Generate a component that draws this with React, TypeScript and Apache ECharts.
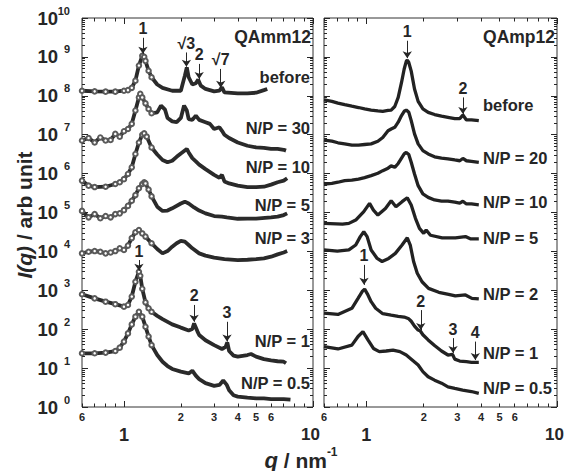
import React, { useEffect, useRef } from 'react';
import * as echarts from 'echarts';

type Pt = [number, number]; // [q (nm^-1), I (arb. unit)]

// ---------- Left panel: QAmm12 ----------
const qammBefore: Pt[] = [
  [0.6, 1.35e8], [0.7, 1.3e8], [0.8, 1.28e8], [0.9, 1.28e8], [1.0, 1.35e8], [1.05, 1.4e8], [1.1, 1.6e8],
  [1.15, 2.45e8], [1.2, 6.0e8], [1.25, 1.07e9], [1.28, 1.0e9], [1.3, 7.9e8], [1.35, 4.4e8], [1.4, 3.0e8],
  [1.5, 1.95e8], [1.6, 1.6e8], [1.8, 1.35e8], [2.0, 1.35e8], [2.1, 3.3e8], [2.15, 5.4e8], [2.2, 3.0e8],
  [2.3, 1.95e8], [2.4, 2.1e8], [2.47, 2.6e8], [2.55, 1.82e8], [2.7, 1.5e8], [3.0, 1.3e8], [3.2, 1.35e8],
  [3.3, 1.66e8], [3.4, 1.23e8], [4.0, 1.15e8], [4.5, 1.15e8], [5.0, 1.2e8], [5.5, 1.4e8], [5.73, 1.5e8],
];
const qammNP30: Pt[] = [
  [0.6, 7.1e6], [0.65, 8.2e6], [0.7, 6.3e6], [0.75, 8.5e6], [0.8, 7.1e6], [0.85, 7.3e6], [0.9, 1.05e7],
  [0.95, 8.9e6], [1.0, 1.23e7], [1.05, 1.4e7], [1.1, 1.9e7], [1.15, 4.2e7], [1.2, 9.1e7], [1.22, 1.12e8],
  [1.25, 9.1e7], [1.3, 6.4e7], [1.35, 4.6e7], [1.4, 3.55e7], [1.5, 3.76e7], [1.57, 5.6e7], [1.65, 4.4e7],
  [1.7, 2.7e7], [1.8, 2.2e7], [1.9, 2.1e7], [2.0, 2.7e7], [2.08, 5.6e7], [2.15, 4.2e7], [2.2, 2.5e7],
  [2.3, 2.4e7], [2.4, 3.1e7], [2.5, 2.4e7], [2.7, 2.1e7], [2.85, 1.9e7], [3.0, 1.4e7], [3.2, 1.55e7],
  [3.3, 1.26e7], [3.4, 1.0e7], [3.6, 8.2e6], [4.0, 6.3e6], [4.5, 5.2e6], [5.0, 4.7e6], [5.5, 4.6e6],
  [6.0, 4.3e6], [6.5, 4.3e6], [7.0, 4.1e6], [7.2, 3.9e6],
];
const qammNP10: Pt[] = [
  [0.6, 6.6e5], [0.65, 4.9e5], [0.7, 4.5e5], [0.8, 4.6e5], [0.9, 5.4e5], [0.95, 6.0e5], [1.0, 7.2e5],
  [1.05, 9.8e5], [1.1, 1.45e6], [1.15, 3.2e6], [1.2, 6.3e6], [1.25, 1.0e7], [1.28, 1.08e7], [1.32, 8.9e6],
  [1.4, 4.7e6], [1.5, 3.1e6], [1.6, 2.24e6], [1.7, 1.95e6], [1.8, 2.14e6], [1.9, 2.7e6], [2.0, 3.3e6],
  [2.15, 4.3e6], [2.2, 3.5e6], [2.3, 2.5e6], [2.4, 2.07e6], [2.5, 1.7e6], [2.7, 1.3e6], [3.0, 9.3e5],
  [3.2, 7.8e5], [3.3, 9.3e5], [3.4, 6.3e5], [3.6, 5.6e5], [4.0, 4.9e5], [4.5, 4.5e5], [5.0, 4.5e5],
  [5.5, 4.6e5], [6.0, 5.2e5], [6.5, 6.0e5], [7.0, 6.6e5], [7.3, 7.6e5],
];
const qammNP5: Pt[] = [
  [0.6, 1.1e5], [0.65, 7.5e4], [0.7, 9.1e4], [0.75, 7.1e4], [0.8, 8.1e4], [0.85, 7.5e4], [0.9, 9.1e4],
  [0.95, 9.5e4], [1.0, 1.15e5], [1.05, 1.48e5], [1.1, 2.0e5], [1.15, 2.8e5], [1.2, 4.2e5], [1.25, 5.4e5],
  [1.28, 6.0e5], [1.3, 5.6e5], [1.35, 3.9e5], [1.4, 2.6e5], [1.5, 1.41e5], [1.6, 1.1e5], [1.7, 1.12e5],
  [1.8, 1.28e5], [2.0, 1.7e5], [2.1, 1.9e5], [2.2, 1.7e5], [2.35, 1.35e5], [2.5, 1.12e5], [2.7, 9.5e4],
  [3.0, 8.1e4], [3.3, 7.8e4], [3.5, 7.5e4], [4.0, 6.9e4], [4.5, 7.0e4], [5.0, 7.0e4], [6.0, 7.5e4],
  [6.5, 7.8e4], [7.0, 8.6e4], [7.3, 9.5e4],
];
const qammNP3: Pt[] = [
  [0.6, 8.9e3], [0.65, 9.8e3], [0.7, 1.02e4], [0.75, 9.8e3], [0.8, 8.9e3], [0.85, 9.4e3], [0.9, 1.02e4],
  [0.95, 1.2e4], [1.0, 1.09e4], [1.05, 1.41e4], [1.1, 2.2e4], [1.15, 3.1e4], [1.2, 3.55e4], [1.25, 2.9e4],
  [1.3, 2.4e4], [1.4, 1.62e4], [1.5, 1.15e4], [1.6, 8.9e3], [1.7, 1.02e4], [1.8, 1.32e4], [1.9, 1.62e4],
  [2.0, 1.86e4], [2.1, 1.78e4], [2.2, 1.46e4], [2.3, 1.2e4], [2.5, 8.9e3], [2.7, 7.8e3], [3.0, 6.9e3],
  [3.4, 6.3e3], [4.0, 6.0e3], [4.5, 6.1e3], [5.0, 6.3e3], [5.5, 6.6e3], [6.0, 7.3e3], [6.5, 8.4e3],
  [7.0, 9.4e3], [7.3, 1.02e4],
];
const qammNP1: Pt[] = [
  [0.6, 790], [0.7, 620], [0.8, 510], [0.9, 440], [1.0, 380], [1.05, 420], [1.1, 690], [1.15, 1660],
  [1.2, 3000], [1.22, 2370], [1.25, 1100], [1.3, 490], [1.35, 345], [1.4, 280], [1.5, 220], [1.6, 182],
  [1.8, 133], [2.0, 110], [2.2, 93], [2.3, 101], [2.35, 141], [2.45, 87], [2.5, 71], [2.7, 52], [3.0, 39],
  [3.3, 31], [3.45, 35], [3.52, 46], [3.6, 27.5], [3.8, 21], [4.0, 19.7], [4.5, 21.7], [4.7, 23], [5.0, 19.7],
  [5.5, 17], [6.0, 15.8], [6.5, 15], [7.0, 14.6], [7.2, 13.3],
];
const qammNP05: Pt[] = [
  [0.6, 24], [0.7, 24], [0.8, 25], [0.9, 27.5], [0.95, 33.5], [1.0, 48], [1.05, 78], [1.1, 133], [1.15, 210],
  [1.2, 280], [1.25, 210], [1.3, 116], [1.35, 65], [1.4, 39], [1.5, 21.7], [1.6, 14.6], [1.7, 11.3], [1.8, 9.5],
  [2.0, 8.1], [2.2, 7.3], [2.3, 8.6], [2.4, 6.4], [2.5, 5.2], [2.7, 4.1], [3.0, 3.5], [3.2, 3.7], [3.35, 4.8],
  [3.5, 3.7], [3.6, 2.7], [3.8, 2.0], [4.0, 1.85], [4.5, 1.74], [5.0, 1.67], [5.5, 1.67], [6.0, 1.6],
  [6.5, 1.6], [7.0, 1.6], [7.6, 1.55],
];

// ---------- Right panel: QAmp12 ----------
const qampBefore: Pt[] = [
  [0.6, 7.8e7], [0.66, 7.2e7], [0.71, 6.5e7], [0.77, 5.9e7], [0.84, 5.4e7], [0.91, 5.0e7], [0.98, 4.6e7],
  [1.06, 4.3e7], [1.15, 4.1e7], [1.22, 4.0e7], [1.3, 4.2e7], [1.35, 4.3e7], [1.41, 5.3e7], [1.47, 9.1e7],
  [1.53, 2.2e8], [1.58, 4.9e8], [1.62, 7.7e8], [1.64, 8.3e8], [1.67, 7.2e8], [1.72, 4.3e8], [1.79, 1.5e8],
  [1.87, 7.2e7], [1.98, 4.6e7], [2.11, 3.76e7], [2.28, 3.3e7], [2.48, 3.0e7], [2.68, 2.8e7], [2.91, 2.6e7],
  [3.09, 2.6e7], [3.21, 3.2e7], [3.35, 2.4e7], [3.56, 2.4e7], [3.89, 2.3e7],
];
const qampNP20: Pt[] = [
  [0.6, 7.3e6], [0.66, 6.8e6], [0.71, 6.2e6], [0.77, 5.8e6], [0.84, 5.4e6], [0.91, 5.4e6], [0.98, 5.6e6],
  [1.06, 5.8e6], [1.15, 6.8e6], [1.22, 8.5e6], [1.3, 1.26e7], [1.35, 1.4e7], [1.41, 1.55e7], [1.47, 2.1e7],
  [1.53, 3.1e7], [1.58, 4.0e7], [1.62, 4.3e7], [1.67, 3.76e7], [1.72, 2.3e7], [1.79, 1.05e7], [1.87, 5.8e6],
  [1.98, 3.9e6], [2.11, 3.2e6], [2.28, 2.7e6], [2.48, 2.5e6], [2.68, 2.4e6], [2.91, 2.24e6], [3.09, 2.14e6],
  [3.21, 2.45e6], [3.35, 2.14e6], [3.56, 2.07e6], [3.89, 1.95e6],
];
const qampNP10: Pt[] = [
  [0.6, 5.4e5], [0.66, 5.6e5], [0.71, 6.0e5], [0.77, 6.6e5], [0.84, 6.8e5], [0.91, 7.2e5], [0.98, 7.9e5],
  [1.06, 8.9e5], [1.15, 1.02e6], [1.22, 1.19e6], [1.3, 1.38e6], [1.35, 1.58e6], [1.41, 1.45e6], [1.47, 1.82e6],
  [1.53, 2.5e6], [1.58, 3.2e6], [1.62, 3.5e6], [1.67, 3.1e6], [1.72, 1.95e6], [1.79, 9.8e5], [1.87, 4.9e5],
  [1.98, 3.0e5], [2.11, 2.45e5], [2.28, 2.1e5], [2.48, 1.95e5], [2.68, 1.95e5], [2.91, 1.84e5], [3.09, 1.74e5],
  [3.21, 1.95e5], [3.35, 1.66e5], [3.56, 1.66e5], [3.89, 1.58e5],
];
const qampNP5: Pt[] = [
  [0.6, 5.25e4], [0.75, 5.0e4], [0.81, 5.25e4], [0.88, 6.4e4], [0.97, 1.05e5], [1.04, 1.72e5], [1.09, 1.15e5],
  [1.15, 8.6e4], [1.26, 1.27e5], [1.35, 2.0e5], [1.43, 1.41e5], [1.54, 1.9e5], [1.64, 2.4e5], [1.72, 1.55e5],
  [1.81, 7.1e4], [1.9, 3.9e4], [2.0, 2.9e4], [2.06, 3.55e4], [2.17, 2.6e4], [2.5, 2.24e4], [2.93, 2.24e4],
  [3.31, 2.4e4], [3.51, 2.1e4], [3.89, 2.1e4],
];
const qampNP2: Pt[] = [
  [0.6, 1.09e4], [0.705, 1.02e4], [0.81, 1.09e4], [0.88, 1.46e4], [0.93, 2.4e4], [0.97, 3.2e4], [1.01, 2.4e4],
  [1.06, 1.09e4], [1.14, 6.6e3], [1.21, 5.5e3], [1.31, 6.6e3], [1.42, 8.9e3], [1.54, 1.46e4], [1.64, 2.24e4],
  [1.7, 1.46e4], [1.77, 5.5e3], [1.85, 2.75e3], [1.96, 1.66e3], [2.12, 1.12e3], [2.4, 890], [2.7, 790],
  [2.93, 720], [3.31, 760], [3.58, 620], [3.89, 600],
];
const qampNP1: Pt[] = [
  [0.6, 260], [0.71, 240], [0.84, 345], [0.905, 620], [0.955, 950], [0.98, 1070], [1.02, 760], [1.06, 510],
  [1.12, 345], [1.22, 250], [1.35, 230], [1.47, 215], [1.58, 205], [1.67, 185], [1.72, 160], [1.79, 120],
  [1.87, 95], [1.92, 90], [1.98, 72], [2.11, 53], [2.28, 38], [2.48, 27.5], [2.68, 21.7], [2.83, 22.6],
  [2.91, 17], [3.09, 15.2], [3.35, 14.6], [3.56, 14.1], [3.89, 14.1],
];
const qampNP05: Pt[] = [
  [0.6, 35.5], [0.71, 31], [0.84, 39], [0.905, 65], [0.96, 87], [1.02, 53], [1.09, 32], [1.17, 26.5],
  [1.27, 27.5], [1.38, 29], [1.5, 26.5], [1.62, 21.7], [1.74, 16.2], [1.87, 12], [1.98, 8.1], [2.11, 6.0],
  [2.28, 4.9], [2.48, 4.1], [2.68, 3.3], [2.91, 3.0], [3.2, 2.7], [3.56, 2.5], [3.89, 2.24],
];

const qammNames = ['before', 'N/P = 30', 'N/P = 10', 'N/P = 5', 'N/P = 3', 'N/P = 1', 'N/P = 0.5'];
const qampNames = ['before', 'N/P = 20', 'N/P = 10', 'N/P = 5', 'N/P = 2', 'N/P = 1', 'N/P = 0.5'];

// Peak annotations: label, q position, arrow start / arrow tip intensities
type Ann = { text: string; q: number; iFrom: number; iTo: number };
const qammPeaksBefore: Ann[] = [
  { text: '1', q: 1.26, iFrom: 3.1e9, iTo: 1.2e9 },
  { text: '√3', q: 2.14, iFrom: 1.3e9, iTo: 5.6e8 },
  { text: '2', q: 2.5, iFrom: 6.6e8, iTo: 2.7e8 },
  { text: '√7', q: 3.25, iFrom: 4.9e8, iTo: 1.6e8 },
];
const qammPeaksNP1: Ann[] = [
  { text: '1', q: 1.2, iFrom: 6.0e3, iTo: 3.2e3 },
  { text: '2', q: 2.35, iFrom: 420, iTo: 155 },
  { text: '3', q: 3.51, iFrom: 155, iTo: 48 },
];
const qampPeaksBefore: Ann[] = [
  { text: '1', q: 1.64, iFrom: 2.6e9, iTo: 9.3e8 },
  { text: '2', q: 3.21, iFrom: 9.1e7, iTo: 3.4e7 },
];
const qampPeaksNP1: Ann[] = [
  { text: '1', q: 0.973, iFrom: 4.5e3, iTo: 1.38e3 },
  { text: '2', q: 1.93, iFrom: 310, iTo: 95 },
  { text: '3', q: 2.85, iFrom: 59, iTo: 24.5 },
  { text: '4', q: 3.73, iFrom: 48, iTo: 16.2 },
];

// Axis ticks
const xLabelTicks = [0.6, 1, 2, 3, 4, 5, 6, 10];
const xMinorTicks = [0.6, 0.7, 0.8, 0.9, 2, 3, 4, 5, 6, 7, 8, 9];
const xMajorTicks = [1, 10];
const yDecades = [0, 1, 2, 3, 4, 5, 6, 7, 8, 9, 10];
const yMinorFactors = [2, 3, 4, 5, 6, 7, 8, 9];

const FONT = '"Liberation Sans", Arial, Helvetica, sans-serif';
const INK = '#262626';
const X_MIN = Math.log10(0.6);
const X_MAX = 1;

const lg = (v: number) => Math.log10(v);

function xAxisDef(grid: number, position: string, ticks: number[], len: number, withLabels: boolean) {
  const ax: any = {
    type: 'value', gridIndex: grid, position, min: X_MIN, max: X_MAX,
    axisLine: { show: false, onZero: false },
    splitLine: { show: false },
    axisTick: { show: true, inside: true, length: len, customValues: ticks.map(lg), lineStyle: { color: INK, width: 1 } },
    axisLabel: { show: false },
  };
  if (withLabels) {
    ax.axisLabel = {
      show: true,
      customValues: xLabelTicks.map(lg),
      margin: 4,
      formatter: (v: number) => {
        const q = Math.pow(10, v);
        if (Math.abs(q - 1) < 1e-6) return '{big|1}';
        if (Math.abs(q - 10) < 1e-5) return '{ten|10}';
        return `{sm|${q < 1 ? Math.round(q * 10) : Math.round(q)}}`;
      },
      rich: {
        big: { fontSize: 18, fontWeight: 'bold', fontFamily: FONT, color: INK, padding: [15, 0, 0, 0] },
        ten: { fontSize: 17, fontWeight: 'bold', fontFamily: FONT, color: INK, padding: [15, 5, 0, 0] },
        sm: { fontSize: 11, fontWeight: 'bold', fontFamily: FONT, color: INK },
      },
    };
  }
  return ax;
}

function yAxisDef(grid: number, position: string, minor: boolean, withLabels: boolean) {
  const ticks = minor
    ? yDecades.slice(0, -1).flatMap((d) => yMinorFactors.map((f) => d + lg(f)))
    : yDecades;
  const ax: any = {
    type: 'value', gridIndex: grid, position, min: 0, max: 10, interval: 1,
    axisLine: { show: false, onZero: false },
    splitLine: { show: false },
    axisTick: { show: true, inside: true, length: minor ? 3 : 6, customValues: ticks, lineStyle: { color: INK, width: 1 } },
    axisLabel: { show: false },
  };
  if (withLabels) {
    ax.axisLabel = {
      show: true,
      margin: 12,
      formatter: (v: number) => `{b|10}{s|${Math.round(v)}}`,
      rich: {
        b: { fontSize: 18.5, fontWeight: 'bold', fontFamily: FONT, color: INK, lineHeight: 26 },
        s: { fontSize: 11, fontWeight: 'bold', fontFamily: FONT, color: INK, verticalAlign: 'top', width: 12 },
      },
    };
  }
  return ax;
}

function markLineFor(anns: Ann[]) {
  return {
    silent: true,
    symbol: ['none', 'arrow'],
    symbolSize: 7,
    precision: 6,
    lineStyle: { color: INK, width: 1, type: 'solid' },
    label: { show: true, position: 'start', formatter: '{b}', distance: 1, fontSize: 16, fontWeight: 'bold', fontFamily: FONT, color: INK },
    emphasis: { disabled: true },
    data: anns.map((a) => [
      { name: a.text, coord: [lg(a.q), lg(a.iFrom)] },
      { coord: [lg(a.q), lg(a.iTo)] },
    ]),
  };
}

export default function App() {
  const ref = useRef<HTMLDivElement>(null);

  useEffect(() => {
    if (!ref.current) return;
    const chart = echarts.init(ref.current, undefined, { renderer: 'svg' });

    const leftCurves = [qammBefore, qammNP30, qammNP10, qammNP5, qammNP3, qammNP1, qammNP05];
    const rightCurves = [qampBefore, qampNP20, qampNP10, qampNP5, qampNP2, qampNP1, qampNP05];

    // open-circle markers are visible in the sparse low-q part of the QAmm12 data
    const leftData = (arr: Pt[]) => arr.map(([q, i]) => ({
      value: [lg(q), lg(i)],
      symbol: q < 1.45 ? 'emptyCircle' : 'none',
    }));

    const leftSeries = leftCurves.map((c, k) => ({
      type: 'line', name: 'QAmm12 ' + qammNames[k], xAxisIndex: 0, yAxisIndex: 0,
      data: leftData(c), symbolSize: 4.5, showSymbol: true, showAllSymbol: true,
      lineStyle: { color: '#2a2a2a', width: 3.8 }, itemStyle: { color: '#5a5a5a', borderWidth: 1 },
      silent: true, z: 2,
      markLine: k === 0 ? markLineFor(qammPeaksBefore) : k === 5 ? markLineFor(qammPeaksNP1) : undefined,
    }));
    const rightSeries = rightCurves.map((c, k) => ({
      type: 'line', name: 'QAmp12 ' + qampNames[k], xAxisIndex: 4, yAxisIndex: 4,
      data: c.map(([q, i]) => [lg(q), lg(i)]), symbol: 'none', showSymbol: false,
      lineStyle: { color: '#222', width: 3.3 },
      silent: true, z: 2,
      markLine: k === 0 ? markLineFor(qampPeaksBefore) : k === 5 ? markLineFor(qampPeaksNP1) : undefined,
    }));

    const txt = (text: string, x: number, y: number, align: string, size = 16) => ({
      type: 'text', x, y, silent: true,
      style: {
        text, fill: INK, fontSize: size, fontWeight: 'bold', fontFamily: FONT,
        align, verticalAlign: 'middle', textAlign: align, textVerticalAlign: 'middle',
      },
    });

    const leftLabelY = [76.5, 128, 166.5, 205, 237.5, 341, 382.5];
    const rightLabelY = [105, 158, 201.5, 238, 294, 352.5, 387.5];

    const graphic: any[] = [
      txt('QAmm12', 311, 37, 'right', 17.5),
      txt('QAmp12', 555, 37, 'right', 17.5),
      ...qammNames.map((n, k) => txt(n, 310, leftLabelY[k], 'right', 16.5)),
      ...qampNames.map((n, k) => txt(n, 483, rightLabelY[k], 'left', 16.5)),
      {
        type: 'text', x: 24, y: 215, rotation: Math.PI / 2, silent: true,
        style: {
          text: '{i|I(q)}{n| / arb unit}', align: 'center', verticalAlign: 'middle',
          textAlign: 'center', textVerticalAlign: 'middle', fill: INK,
          fontSize: 21, fontWeight: 'bold', fontFamily: FONT,
          rich: {
            i: { fontStyle: 'italic', fontWeight: 'bold', fontSize: 21, fontFamily: FONT, fill: INK },
            n: { fontWeight: 'bold', fontSize: 21, fontFamily: FONT, fill: INK },
          },
        },
      },
      {
        type: 'text', x: 301, y: 460, silent: true,
        style: {
          text: '{q|q}{n| / nm}{s|-1}', align: 'center', verticalAlign: 'middle',
          textAlign: 'center', textVerticalAlign: 'middle', fill: INK,
          fontSize: 21, fontWeight: 'bold', fontFamily: FONT,
          rich: {
            q: { fontStyle: 'italic', fontWeight: 'bold', fontSize: 22, fontFamily: FONT, fill: INK, lineHeight: 28 },
            n: { fontWeight: 'bold', fontSize: 21, fontFamily: FONT, fill: INK, lineHeight: 28 },
            s: { fontWeight: 'bold', fontSize: 12, fontFamily: FONT, fill: INK, verticalAlign: 'top' },
          },
        },
      },
    ];

    const option: any = {
      animation: false,
      backgroundColor: '#ffffff',
      grid: [
        { left: 82, top: 18, width: 231, height: 389, show: true, borderColor: '#333', borderWidth: 1, backgroundColor: 'transparent', containLabel: false, outerBoundsMode: 'none' },
        { left: 324, top: 18, width: 233, height: 389, show: true, borderColor: '#333', borderWidth: 1, backgroundColor: 'transparent', containLabel: false, outerBoundsMode: 'none' },
      ],
      xAxis: [
        xAxisDef(0, 'bottom', xMinorTicks, 3.5, true),
        xAxisDef(0, 'bottom', xMajorTicks, 6, false),
        xAxisDef(0, 'top', xMinorTicks, 3.5, false),
        xAxisDef(0, 'top', xMajorTicks, 6, false),
        xAxisDef(1, 'bottom', xMinorTicks, 3.5, true),
        xAxisDef(1, 'bottom', xMajorTicks, 6, false),
        xAxisDef(1, 'top', xMinorTicks, 3.5, false),
        xAxisDef(1, 'top', xMajorTicks, 6, false),
      ],
      yAxis: [
        yAxisDef(0, 'left', false, true),
        yAxisDef(0, 'left', true, false),
        yAxisDef(0, 'right', false, false),
        yAxisDef(0, 'right', true, false),
        yAxisDef(1, 'left', false, false),
        yAxisDef(1, 'left', true, false),
        yAxisDef(1, 'right', false, false),
        yAxisDef(1, 'right', true, false),
      ],
      series: [...leftSeries, ...rightSeries],
      graphic,
    };

    chart.setOption(option);
    return () => chart.dispose();
  }, []);

  return (
    <div
      ref={ref}
      style={{ position: 'fixed', left: 0, top: 0, width: 565, height: 471, background: '#fff' }}
    />
  );
}
